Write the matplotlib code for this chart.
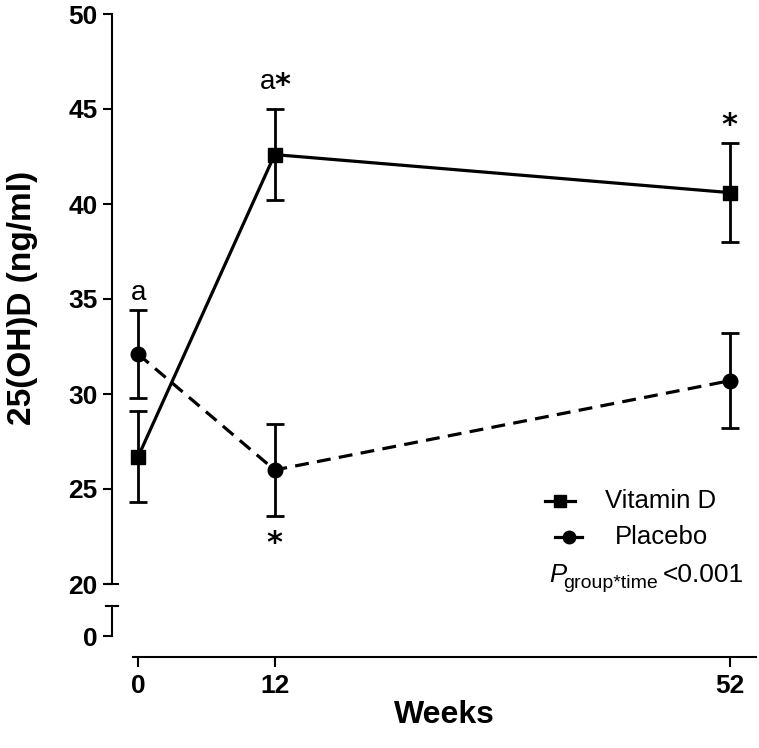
import matplotlib.pyplot as plt
from matplotlib.lines import Line2D

plt.rcParams['font.family'] = ['Liberation Sans', 'DejaVu Sans']
plt.rcParams['lines.scale_dashes'] = False

weeks = [0, 12, 52]
vitd_mean = [26.7, 42.6, 40.6]
vitd_err = [2.4, 2.4, 2.6]
plac_mean = [32.1, 26.0, 30.7]
plac_err = [2.3, 2.4, 2.5]

# annotation marks: (letter, star, week, y)
marks = [("a", False, 0, 35.3), ("a", True, 12, 46.4), ("", True, 52, 44.3),
         ("", True, 12, 22.3)]

W, H = 759, 748
fig = plt.figure(figsize=(W / 100, H / 100), dpi=100)


def px(x0, y0, x1, y1):
    # pixel box (top-left origin) -> figure fraction rect
    return [x0 / W, 1 - y1 / H, (x1 - x0) / W, (y1 - y0) / H]


xlim = (-0.45, 54.3)
off = 21 * 0.72  # spine offset in points

# upper part: 20..50
ax = fig.add_axes(px(133, 14, 756, 584))
ax.set_xlim(*xlim)
ax.set_ylim(20, 50)
for s in ['top', 'right', 'bottom']:
    ax.spines[s].set_visible(False)
ax.spines['left'].set_position(('outward', off))
ax.spines['left'].set_linewidth(1.5)
ax.set_xticks([])
ax.set_yticks([20, 25, 30, 35, 40, 45, 50])
ax.tick_params(axis='y', length=6.5, width=1.5, pad=4, labelsize=19)
for lab in ax.get_yticklabels():
    lab.set_fontweight('bold')

ax.errorbar(weeks, vitd_mean, yerr=vitd_err, color='black', lw=2.3,
            marker='s', ms=10, capsize=6.5, capthick=2, elinewidth=2,
            clip_on=False, zorder=3)
pl = ax.errorbar(weeks, plac_mean, yerr=plac_err, color='black', lw=2.3,
                 marker='o', ms=10.5, capsize=6.5, capthick=2, elinewidth=2,
                 clip_on=False, zorder=3)
pl[0].set_linestyle((0, (10, 6)))

for letter, star, wk, yv in marks:
    if letter and star:
        ax.annotate(letter, (wk, yv), xytext=(-7, 0), textcoords='offset pixels',
                    ha='center', va='center', fontsize=20)
        ax.annotate('*', (wk, yv), xytext=(8, -3), textcoords='offset pixels',
                    ha='center', va='center', fontsize=22, family='DejaVu Sans',
                    fontweight='bold')
    elif letter:
        ax.text(wk, yv, letter, ha='center', va='center', fontsize=20)
    else:
        ax.annotate('*', (wk, yv), xytext=(0, -3), textcoords='offset pixels',
                    ha='center', va='center', fontsize=22, family='DejaVu Sans',
                    fontweight='bold')

# legend drawn by hand
leg = [("Vitamin D", 's', 545, 575, 605, 501), ("Placebo", 'o', 555, 582, 615, 537)]
for name, mk, x0, x1, xt, yy in leg:
    fig.add_artist(Line2D([x0 / W, x1 / W], [1 - yy / H] * 2, color='black',
                          lw=2.3))
    fig.add_artist(Line2D([(x0 + x1) / 2 / W], [1 - yy / H], color='black',
                          marker=mk, ms=9))
    fig.text(xt / W, 1 - yy / H, name, fontsize=18.5, va='center', ha='left')

# P group*time text
fig.text(549 / W, 1 - 582 / H, 'P', fontsize=18.5, style='italic',
         va='baseline', ha='left')
fig.text(563 / W, 1 - 588 / H, 'group*time', fontsize=14, va='baseline',
         ha='left')
fig.text(663 / W, 1 - 582 / H, '<0.001', fontsize=19, va='baseline',
         ha='left')

# lower part: 0 only, carries the x axis
axl = fig.add_axes(px(133, 606, 756, 636))
axl.set_xlim(*xlim)
axl.set_ylim(0, 1)
for s in ['top', 'right']:
    axl.spines[s].set_visible(False)
axl.spines['left'].set_position(('outward', off))
axl.spines['bottom'].set_position(('outward', 21 * 0.72))
axl.spines['left'].set_linewidth(1.5)
axl.spines['bottom'].set_linewidth(1.5)
axl.set_yticks([0])
axl.set_xticks(weeks)
axl.tick_params(axis='y', length=6.5, width=1.5, pad=4, labelsize=19)
axl.tick_params(axis='x', length=7, width=1.5, pad=5, labelsize=19)
for lab in axl.get_yticklabels() + axl.get_xticklabels():
    lab.set_fontweight('bold')
axl.set_xlabel('Weeks', fontsize=23, fontweight='bold', labelpad=2)

# break caps on the y axis
for yy in (584, 606):
    fig.add_artist(Line2D([106 / W, 118 / W], [1 - yy / H] * 2, color='black',
                          lw=1.5))

fig.text(23 / W, 1 - 298 / H, '25(OH)D (ng/ml)', rotation=90, fontsize=24,
         fontweight='bold', ha='center', va='center')

fig.savefig('out.png', dpi=100)
